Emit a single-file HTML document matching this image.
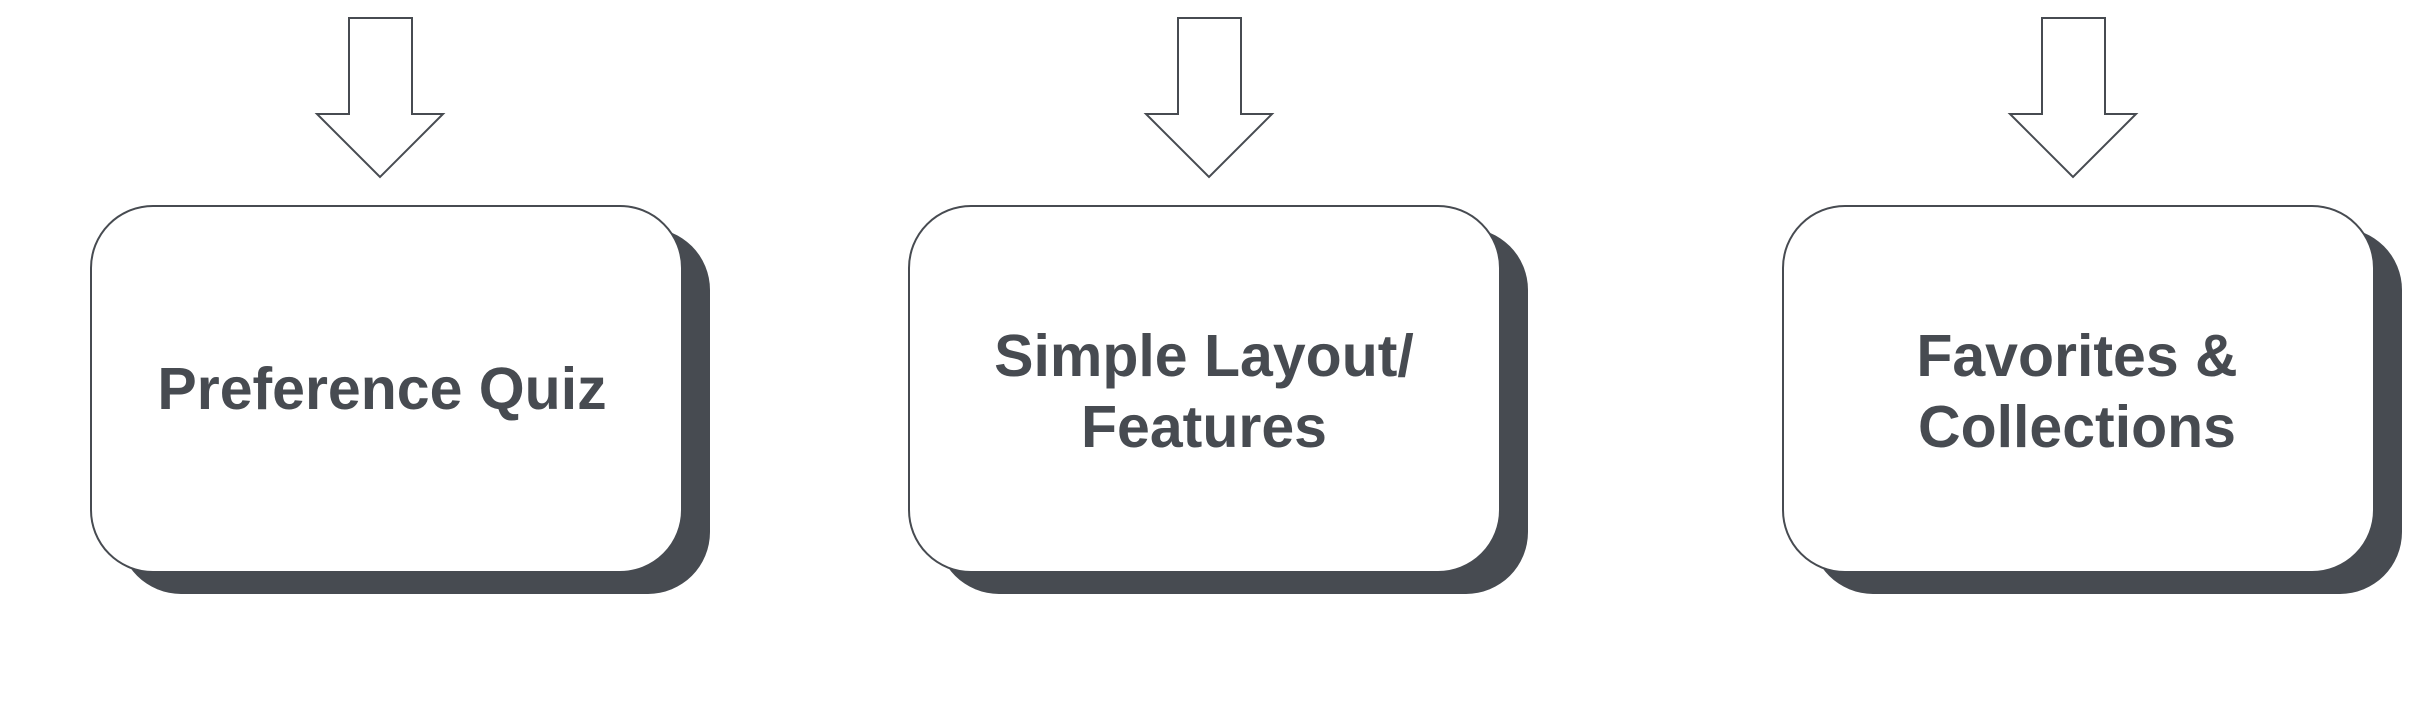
<!DOCTYPE html>
<html><head><style>
html,body{margin:0;padding:0;background:#fff;}
svg{display:block;}
text{font-family:"Liberation Sans",Arial,sans-serif;font-weight:bold;fill:#474b51;font-size:59px;}
</style></head><body>
<svg width="2428" height="706" viewBox="0 0 2428 706" xmlns="http://www.w3.org/2000/svg">
<g stroke="#474b51" stroke-width="2" fill="#fff">
<polygon points="349,18 412,18 412,114 443,114 380,177 317,114 349,114"/>
<polygon points="1178,18 1241,18 1241,114 1272,114 1209,177 1146,114 1178,114"/>
<polygon points="2042,18 2105,18 2105,114 2136,114 2073,177 2010,114 2042,114"/>
</g>
<g fill="#474b51">
<rect x="119" y="228" width="591" height="366" rx="62" ry="62"/>
<rect x="937" y="228" width="591" height="366" rx="62" ry="62"/>
<rect x="1811" y="228" width="591" height="366" rx="62" ry="62"/>
</g>
<g fill="#fff" stroke="#474b51" stroke-width="2">
<rect x="91" y="206" width="591" height="366" rx="62" ry="62"/>
<rect x="909" y="206" width="591" height="366" rx="62" ry="62"/>
<rect x="1783" y="206" width="591" height="366" rx="62" ry="62"/>
</g>
<text x="382" y="409" text-anchor="middle">Preference Quiz</text>
<text x="1204" y="376" text-anchor="middle">Simple Layout/</text>
<text x="1204" y="447" text-anchor="middle">Features</text>
<text x="2077" y="376" text-anchor="middle">Favorites &amp;</text>
<text x="2077" y="447" text-anchor="middle">Collections</text>
</svg>
</body></html>
